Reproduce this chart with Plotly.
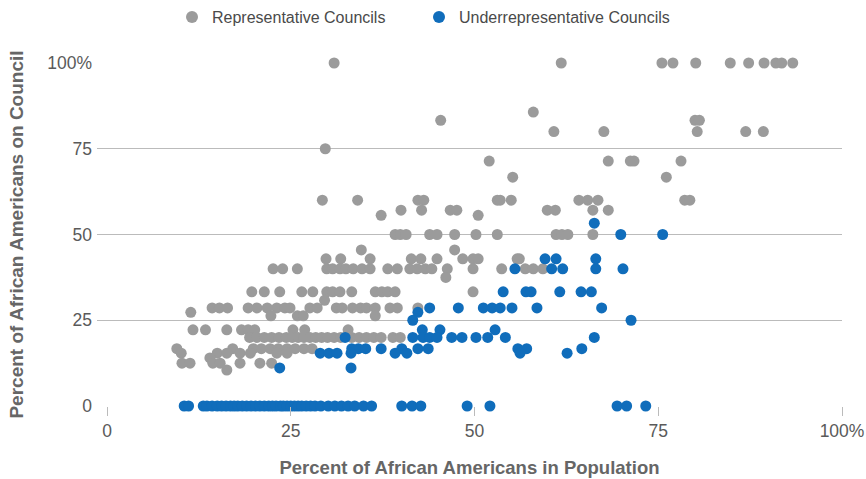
import plotly.graph_objects as go

# ---- data (percent) ----
rep_pop = [
    30.9, 61.8, 75.5, 77.0, 80.1, 84.8, 87.3, 89.4, 91.0, 91.8, 93.3,
    58.0,
    45.4, 80.0, 80.6,
    60.8, 67.6, 80.3, 86.9, 89.3,
    29.7,
    52.0, 68.2, 71.2, 71.7, 78.1,
    55.2, 76.1,
    29.3, 34.1, 42.3, 43.1, 53.1, 53.5, 55.0, 64.2, 65.4, 66.8, 78.6, 79.3,
    40.0, 42.8, 46.7, 47.6, 59.9, 61.0, 66.1, 68.2,
    37.3, 50.5,
    39.2, 39.9, 40.7, 43.9, 44.9, 47.3, 50.2, 53.1, 61.1, 61.9, 62.7, 66.1,
    34.6, 47.3,
    29.8, 31.8, 35.8, 41.4, 42.7, 44.9, 48.4, 49.8, 50.5, 55.8, 56.1,
    22.6, 23.9, 25.9, 29.9, 30.7, 31.7, 32.5, 33.5, 34.7, 35.8, 38.2, 39.5,
    41.2, 42.2, 43.3, 44.2, 46.3, 49.8, 53.7, 56.9, 58.0, 59.3,
    46.1,
    19.7, 21.4, 23.5, 26.5, 28.0, 29.9, 30.7, 31.7, 33.3, 36.5, 37.4, 38.2, 39.2, 49.8,
    29.6,
    14.3, 15.3, 16.4, 19.2, 20.4, 21.8, 23.1, 24.2, 24.9, 27.6, 28.6, 31.2, 32.0,
    33.4, 34.5, 35.3, 36.5, 38.5, 39.5, 42.3,
    11.4,
    22.3, 25.9, 26.7, 36.5,
    11.7, 13.4, 16.3, 18.3, 19.2, 20.1, 25.3, 26.9, 32.8,
    19.4, 20.4, 21.4, 22.4, 23.4, 24.4, 25.2, 26.0, 26.8, 27.6, 28.4, 29.2, 30.0,
    30.9, 31.8, 33.3, 34.3, 35.3, 36.3, 37.3, 38.9, 39.9,
    9.5, 17.1, 19.9, 21.0, 22.2, 23.3, 24.5, 25.6, 26.8, 27.9,
    10.1, 15.0, 16.3, 18.1, 19.5, 23.1, 24.5,
    14.0,
    10.2, 11.3, 14.4, 15.4, 18.1, 20.8, 22.4,
    16.3,
]
rep_council = (
    [100] * 11 + [85.7] + [83.3] * 3 + [80] * 5 + [75] + [71.4] * 5 + [66.7] * 2
    + [60] * 12 + [57.1] * 8 + [55.6] * 2 + [50] * 12 + [45.5] * 2 + [42.9] * 11
    + [40] * 22 + [37.5] + [33.3] * 14 + [30.8] + [28.6] * 20 + [27.3]
    + [26.3] * 4 + [22.2] * 9 + [20] * 22 + [16.7] * 10 + [15.4] * 7 + [14.0]
    + [12.5] * 7 + [10.5]
)

under_pop = [
    10.5, 11.1, 13.1, 13.6, 14.3, 15.0, 15.6, 16.2, 16.8, 17.3, 17.8, 18.4, 19.0,
    19.6, 20.2, 20.8, 21.4, 22.0, 22.5, 23.0, 23.6, 24.0, 24.5, 25.0, 25.5, 26.0,
    26.5, 27.1, 27.7, 28.3, 29.1, 30.1, 31.0, 31.9, 32.8, 33.7, 34.9, 36.0, 40.1,
    41.5, 42.7, 49.0, 52.1, 69.4, 70.7, 73.3,
    66.3,
    69.9, 75.6,
    59.6, 61.1, 66.5,
    55.5, 60.5, 62.0, 66.5, 70.2,
    53.9, 57.0, 57.7, 61.6, 64.5, 65.9,
    43.9, 47.8, 51.2, 52.4, 53.5, 55.1, 58.5, 67.3,
    42.3,
    41.6, 71.3,
    42.9, 45.3, 52.8,
    32.4, 41.6, 43.0, 43.9, 44.9, 46.9, 48.3, 50.2, 51.8, 54.2, 66.3,
    33.3, 34.2, 35.2, 37.3, 40.1, 42.3, 43.7, 55.9, 57.1, 64.6,
    29.0, 30.2, 31.3, 33.2, 39.2, 40.8, 56.2, 62.6,
    23.5, 33.2,
]
under_council = (
    [0] * 46 + [53.3] + [50] * 2 + [42.9] * 3 + [40] * 5 + [33.3] * 6
    + [28.6] * 8 + [27.3] + [25] * 2 + [22.2] * 3 + [20] * 11 + [16.7] * 10
    + [15.4] * 8 + [11.1] * 2
)

x_ticks = [0, 25, 50, 75, 100]
x_tick_labels = ["0", "25", "50", "75", "100%"]
y_ticks = [0, 25, 50, 75, 100]
y_tick_labels = ["0", "25", "50", "75", "100%"]

GRAY = "#9b9b9b"
BLUE = "#106dbb"
FONT = "Liberation Sans, Arial, sans-serif"

W, H = 866, 479

fig = go.Figure()
fig.add_trace(go.Scatter(
    x=rep_pop, y=rep_council, mode="markers", name="Representative Councils",
    marker=dict(color=GRAY, size=11, line=dict(width=0)), cliponaxis=False,
    legend="legend",
))
fig.add_trace(go.Scatter(
    x=under_pop, y=under_council, mode="markers", name="Underrepresentative Councils",
    marker=dict(color=BLUE, size=11, line=dict(width=0)), cliponaxis=False,
    legend="legend2",
))

legend_common = dict(
    orientation="h", xref="container", yref="container",
    xanchor="left", y=1 - 17 / H, yanchor="middle",
    font=dict(size=16, color="#4a4a4a"), itemsizing="constant",
)

fig.update_layout(
    width=W, height=H,
    margin=dict(l=97, r=24, t=63, b=73, autoexpand=False),
    plot_bgcolor="white", paper_bgcolor="white",
    font=dict(family=FONT, color="#555555", size=17),
    showlegend=True,
    legend=dict(x=172 / W, **legend_common),
    legend2=dict(x=419 / W, **legend_common),
    xaxis=dict(
        range=[-1.36, 100], tickvals=x_ticks, ticktext=x_tick_labels,
        showgrid=False, zeroline=False, automargin=False,
        showline=False, ticks="outside", ticklen=9, tickcolor="#bbbbbb",
        tickfont=dict(size=17.5, color="#5a5a5a"),
        title=dict(text="<b>Percent of African Americans in Population</b>",
                   font=dict(size=18.5, color="#666666"), standoff=21),
    ),
    yaxis=dict(
        range=[0, 100], tickvals=y_ticks, ticktext=y_tick_labels,
        showgrid=True, gridcolor="#bbbbbb", gridwidth=1.3, zeroline=False,
        showline=False, ticks="", automargin=False, ticklabelstandoff=4,
        tickfont=dict(size=17.5, color="#5a5a5a"),
        title=dict(text="<b>Percent of African Americans on Council</b>",
                   font=dict(size=19, color="#666666"), standoff=18),
    ),
)

fig.write_html(
    "out.html",
    config={"displayModeBar": False},
    post_script="document.body.style.margin='0';document.body.style.overflow='hidden';",
)
